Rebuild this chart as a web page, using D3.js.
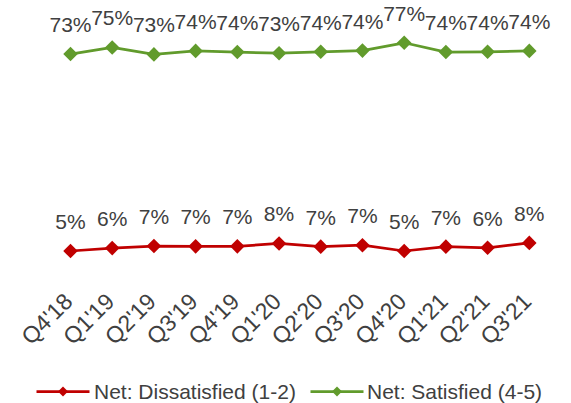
<!DOCTYPE html>
<html>
<head>
<meta charset="utf-8">
<script src="https://cdn.jsdelivr.net/npm/d3@7"></script>
<style>
  html, body { margin: 0; padding: 0; background: #ffffff; }
  svg { display: block; font-family: "Liberation Sans", Arial, sans-serif; }
</style>
</head>
<body>
<svg id="chart" width="571" height="403"></svg>
<script>
// Quarter labels along the x axis
const quarters = ["Q4'18", "Q1'19", "Q2'19", "Q3'19", "Q4'19", "Q1'20",
                  "Q2'20", "Q3'20", "Q4'20", "Q1'21", "Q2'21", "Q3'21"];

// Share of respondents (%), per quarter
const satisfied    = [72.9, 75.2, 72.8, 74.0, 73.6, 73.2, 73.7, 74.1, 76.8, 73.6, 73.7, 74.0];
const dissatisfied = [5.0, 6.0, 6.7, 6.6, 6.6, 7.6, 6.5, 7.0, 5.0, 6.5, 6.1, 7.8];

const seriesNames  = ["Net: Dissatisfied (1-2)", "Net: Satisfied (4-5)"];
const seriesColors = ["#C00000", "#619B2C"];

const series = [
  { name: seriesNames[0], color: seriesColors[0], values: dissatisfied },
  { name: seriesNames[1], color: seriesColors[1], values: satisfied }
];

const svg = d3.select("#chart");
const textColor = "#404040";

const x = d3.scalePoint().domain(quarters).range([70.5, 529.3]);
const y = d3.scaleLinear().domain([0, 80]).range([265.5, 33.5]);

const diamond = d3.symbol().type(d3.symbolSquare).size(106);
const line = d3.line()
  .x((d, i) => x(quarters[i]))
  .y(d => y(d));

series.forEach(s => {
  const g = svg.append("g");
  g.append("path")
    .attr("d", line(s.values))
    .attr("fill", "none")
    .attr("stroke", s.color)
    .attr("stroke-width", 2.75)
    .attr("stroke-linejoin", "round");

  g.selectAll("path.marker")
    .data(s.values)
    .join("path")
    .attr("class", "marker")
    .attr("d", diamond)
    .attr("fill", s.color)
    .attr("transform", (d, i) => `translate(${x(quarters[i])},${y(d)}) rotate(45)`);

  g.selectAll("text.value")
    .data(s.values)
    .join("text")
    .attr("class", "value")
    .attr("x", (d, i) => x(quarters[i]))
    .attr("y", d => y(d) - 22)
    .attr("text-anchor", "middle")
    .attr("font-size", 21)
    .attr("fill", textColor)
    .text(d => Math.round(d) + "%");
});

// Rotated category labels
const xAxis = d3.axisBottom(x).tickSize(0).tickPadding(0);
const axisG = svg.append("g")
  .attr("transform", "translate(0,303)")
  .attr("font-size", 23)
  .call(xAxis);
axisG.select(".domain").remove();
axisG.attr("font-size", 23).attr("font-family", "Liberation Sans, Arial, sans-serif");
axisG.selectAll(".tick text")
  .attr("font-size", 23)
  .attr("fill", textColor)
  .attr("text-anchor", "end")
  .attr("dy", 0)
  .attr("y", 0)
  .attr("transform", "translate(3,0) rotate(-45)");

// Legend
const legendItems = [
  { name: seriesNames[0], color: seriesColors[0], x0: 36.5, x1: 89.5, tx: 94 },
  { name: seriesNames[1], color: seriesColors[1], x0: 310.5, x1: 363.5, tx: 367 }
];
const legendY = 391.5;
const legendDiamond = d3.symbol().type(d3.symbolSquare).size(50);
const lg = svg.append("g");
legendItems.forEach(it => {
  lg.append("line")
    .attr("x1", it.x0).attr("x2", it.x1)
    .attr("y1", legendY).attr("y2", legendY)
    .attr("stroke", it.color).attr("stroke-width", 2.75);
  lg.append("path")
    .attr("d", legendDiamond)
    .attr("fill", it.color)
    .attr("transform", `translate(${(it.x0 + it.x1) / 2},${legendY}) rotate(45)`);
  lg.append("text")
    .attr("x", it.tx)
    .attr("y", 398.5)
    .attr("font-size", 21)
    .attr("fill", textColor)
    .text(it.name);
});
</script>
</body>
</html>
